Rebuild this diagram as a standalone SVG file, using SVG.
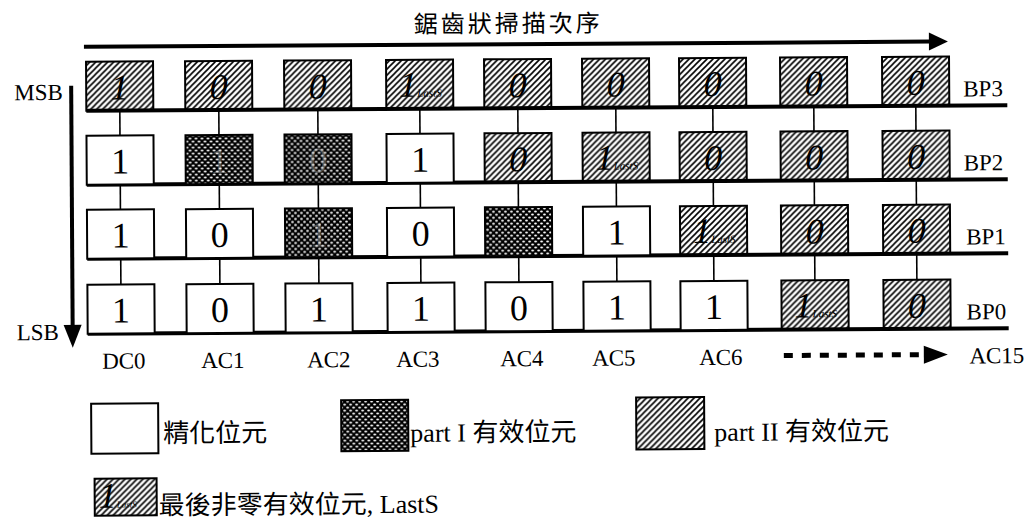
<svg xmlns="http://www.w3.org/2000/svg" width="1035" height="529" viewBox="0 0 1035 529">
<defs>
<pattern id="hatch" width="6" height="6" patternUnits="userSpaceOnUse"><path d="M-1,1 l2,-2 M0,6 l6,-6 M5,7 l2,-2" stroke="#000" stroke-width="1.6"/></pattern>
<pattern id="dots" width="6" height="6" patternUnits="userSpaceOnUse"><rect width="6" height="6" fill="#000"/><ellipse cx="1.5" cy="1.5" rx="1.4" ry="0.9" fill="#fff"/><ellipse cx="4.5" cy="4.5" rx="1.4" ry="0.9" fill="#fff"/></pattern>
</defs>
<style>
.box{stroke:#000;stroke-width:2}
.w{fill:#fff}
.h{fill:url(#hatch)}
.d{fill:url(#dots)}
.dg{font-family:"Liberation Serif",serif;font-size:36px;text-anchor:middle;fill:#000}
.it{font-style:italic}
.fd{fill:#fff;opacity:0.3}
.ls{font-family:"Liberation Serif",serif;font-size:36px;font-style:italic;fill:#000}
.sub{font-size:11px}
.lbl{font-family:"Liberation Serif",serif;font-size:23px;fill:#000}
.bp{font-family:"Liberation Serif",serif;font-size:23px;fill:#000}
.mix{font-family:"Liberation Serif","Noto Sans CJK TC",serif;font-size:26px;fill:#000}
.cjk{font-family:"Noto Sans CJK TC","Noto Sans CJK SC",sans-serif;fill:#000}
.rl{stroke:#000;stroke-width:4}
.cn{stroke:#000;stroke-width:1.6}
</style>
<rect width="1035" height="529" fill="#fff"/>
<g transform="rotate(-0.35 540 220)">
<g id="title">
<text class="cjk" x="415" y="32" font-size="24" letter-spacing="3">鋸齒狀掃描次序</text>
<line class="rl" x1="85" y1="44" x2="932" y2="44"/>
<polygon points="930,35 949,44 930,53" fill="#000"/>
</g>
<g id="axis">
<text class="lbl" x="15" y="97">MSB</text>
<text class="lbl" x="16" y="337">LSB</text>
<line class="rl" x1="72" y1="83" x2="72" y2="325"/>
<polygon points="63,322 72,345 81,322" fill="#000"/>
</g>
<g id="connectors">
<line class="rl" x1="87" y1="108" x2="1008" y2="108"/>
<line class="rl" x1="87" y1="182" x2="1008" y2="182"/>
<line class="rl" x1="87" y1="256" x2="1008" y2="256"/>
<line class="rl" x1="87" y1="331" x2="1008" y2="331"/>
<g class="cn">
<line x1="120.5" y1="108" x2="120.5" y2="133"/><line x1="219.5" y1="108" x2="219.5" y2="133"/><line x1="318.5" y1="108" x2="318.5" y2="133"/><line x1="420.5" y1="108" x2="420.5" y2="133"/><line x1="518.5" y1="108" x2="518.5" y2="133"/><line x1="616.5" y1="108" x2="616.5" y2="133"/><line x1="713.5" y1="108" x2="713.5" y2="133"/><line x1="814.5" y1="108" x2="814.5" y2="133"/><line x1="916.5" y1="108" x2="916.5" y2="133"/>
<line x1="120.5" y1="182" x2="120.5" y2="207"/><line x1="219.5" y1="182" x2="219.5" y2="207"/><line x1="318.5" y1="182" x2="318.5" y2="207"/><line x1="420.5" y1="182" x2="420.5" y2="207"/><line x1="518.5" y1="182" x2="518.5" y2="207"/><line x1="616.5" y1="182" x2="616.5" y2="207"/><line x1="713.5" y1="182" x2="713.5" y2="207"/><line x1="814.5" y1="182" x2="814.5" y2="207"/><line x1="916.5" y1="182" x2="916.5" y2="207"/>
<line x1="120.5" y1="256" x2="120.5" y2="282"/><line x1="219.5" y1="256" x2="219.5" y2="282"/><line x1="318.5" y1="256" x2="318.5" y2="282"/><line x1="420.5" y1="256" x2="420.5" y2="282"/><line x1="518.5" y1="256" x2="518.5" y2="282"/><line x1="616.5" y1="256" x2="616.5" y2="282"/><line x1="713.5" y1="256" x2="713.5" y2="282"/><line x1="814.5" y1="256" x2="814.5" y2="282"/><line x1="916.5" y1="256" x2="916.5" y2="282"/>
</g>
<line x1="783" y1="357" x2="925" y2="357" stroke="#000" stroke-width="5" stroke-dasharray="9 9"/>
<polygon points="923,348 947,357 923,366" fill="#000"/>
</g>
<g id="bp3">
<text class="bp" x="964" y="99">BP3</text>
<g id="bp3-dc0"><rect class="box h" x="87" y="59" width="67" height="49"/><text class="dg it" x="120.5" y="97">1</text></g>
<g id="bp3-ac1"><rect class="box h" x="186" y="59" width="67" height="49"/><text class="dg it" x="219.5" y="97">0</text></g>
<g id="bp3-ac2"><rect class="box h" x="285" y="59" width="67" height="49"/><text class="dg it" x="318.5" y="97">0</text></g>
<g id="bp3-ac3"><rect class="box h" x="387" y="59" width="67" height="49"/><text class="ls" x="400" y="96">1<tspan class="sub">LastS</tspan></text></g>
<g id="bp3-ac4"><rect class="box h" x="485" y="59" width="67" height="49"/><text class="dg it" x="518.5" y="97">0</text></g>
<g id="bp3-ac5"><rect class="box h" x="583" y="59" width="67" height="49"/><text class="dg it" x="616.5" y="97">0</text></g>
<g id="bp3-ac6"><rect class="box h" x="680" y="59" width="67" height="49"/><text class="dg it" x="713.5" y="97">0</text></g>
<g id="bp3-ac7"><rect class="box h" x="781" y="59" width="67" height="49"/><text class="dg it" x="814.5" y="97">0</text></g>
<g id="bp3-ac8"><rect class="box h" x="883" y="59" width="67" height="49"/><text class="dg it" x="916.5" y="97">0</text></g>
</g>
<g id="bp2">
<text class="bp" x="964" y="173">BP2</text>
<g id="bp2-dc0"><rect class="box w" x="87" y="133" width="67" height="49"/><text class="dg" x="120.5" y="171">1</text></g>
<g id="bp2-ac1"><rect class="box d" x="186" y="133" width="67" height="49"/><text class="dg fd" x="219.5" y="171">1</text></g>
<g id="bp2-ac2"><rect class="box d" x="285" y="133" width="67" height="49"/><text class="dg fd" x="318.5" y="171">0</text></g>
<g id="bp2-ac3"><rect class="box w" x="387" y="133" width="67" height="49"/><text class="dg" x="420.5" y="171">1</text></g>
<g id="bp2-ac4"><rect class="box h" x="485" y="133" width="67" height="49"/><text class="dg it" x="518.5" y="171">0</text></g>
<g id="bp2-ac5"><rect class="box h" x="583" y="133" width="67" height="49"/><text class="ls" x="596" y="170">1<tspan class="sub">LastS</tspan></text></g>
<g id="bp2-ac6"><rect class="box h" x="680" y="133" width="67" height="49"/><text class="dg it" x="713.5" y="171">0</text></g>
<g id="bp2-ac7"><rect class="box h" x="781" y="133" width="67" height="49"/><text class="dg it" x="814.5" y="171">0</text></g>
<g id="bp2-ac8"><rect class="box h" x="883" y="133" width="67" height="49"/><text class="dg it" x="916.5" y="171">0</text></g>
</g>
<g id="bp1">
<text class="bp" x="966" y="247">BP1</text>
<g id="bp1-dc0"><rect class="box w" x="87" y="207" width="67" height="49"/><text class="dg" x="120.5" y="245">1</text></g>
<g id="bp1-ac1"><rect class="box w" x="186" y="207" width="67" height="49"/><text class="dg" x="219.5" y="245">0</text></g>
<g id="bp1-ac2"><rect class="box d" x="285" y="207" width="67" height="49"/><text class="dg fd" x="318.5" y="245">1</text></g>
<g id="bp1-ac3"><rect class="box w" x="387" y="207" width="67" height="49"/><text class="dg" x="420.5" y="245">0</text></g>
<g id="bp1-ac4"><rect class="box d" x="485" y="207" width="67" height="49"/></g>
<g id="bp1-ac5"><rect class="box w" x="583" y="207" width="67" height="49"/><text class="dg" x="616.5" y="245">1</text></g>
<g id="bp1-ac6"><rect class="box h" x="680" y="207" width="67" height="49"/><text class="ls" x="693" y="244">1<tspan class="sub">LastS</tspan></text></g>
<g id="bp1-ac7"><rect class="box h" x="781" y="207" width="67" height="49"/><text class="dg it" x="814.5" y="245">0</text></g>
<g id="bp1-ac8"><rect class="box h" x="883" y="207" width="67" height="49"/><text class="dg it" x="916.5" y="245">0</text></g>
</g>
<g id="bp0">
<text class="bp" x="966" y="322">BP0</text>
<g id="bp0-dc0"><rect class="box w" x="87" y="282" width="67" height="49"/><text class="dg" x="120.5" y="320">1</text></g>
<g id="bp0-ac1"><rect class="box w" x="186" y="282" width="67" height="49"/><text class="dg" x="219.5" y="320">0</text></g>
<g id="bp0-ac2"><rect class="box w" x="285" y="282" width="67" height="49"/><text class="dg" x="318.5" y="320">1</text></g>
<g id="bp0-ac3"><rect class="box w" x="387" y="282" width="67" height="49"/><text class="dg" x="420.5" y="320">1</text></g>
<g id="bp0-ac4"><rect class="box w" x="485" y="282" width="67" height="49"/><text class="dg" x="518.5" y="320">0</text></g>
<g id="bp0-ac5"><rect class="box w" x="583" y="282" width="67" height="49"/><text class="dg" x="616.5" y="320">1</text></g>
<g id="bp0-ac6"><rect class="box w" x="680" y="282" width="67" height="49"/><text class="dg" x="713.5" y="320">1</text></g>
<g id="bp0-ac7"><rect class="box h" x="781" y="282" width="67" height="49"/><text class="ls" x="794" y="319">1<tspan class="sub">LastS</tspan></text></g>
<g id="bp0-ac8"><rect class="box h" x="883" y="282" width="67" height="49"/><text class="dg it" x="916.5" y="320">0</text></g>
</g>
<g id="col-labels" class="lbl" text-anchor="middle">
<text x="123" y="366">DC0</text>
<text x="222" y="366">AC1</text>
<text x="328" y="366">AC2</text>
<text x="417" y="366">AC3</text>
<text x="521" y="366">AC4</text>
<text x="613" y="366">AC5</text>
<text x="720" y="366">AC6</text>
<text x="996" y="366">AC15</text>
</g>
<g id="legend">
<g id="leg-refine"><rect class="box w" x="90" y="401" width="67" height="50"/><text class="mix" x="162" y="440">精化位元</text></g>
<g id="leg-part1"><rect class="box d" x="340" y="399" width="67" height="51"/><text class="mix" x="409" y="441">part I 有效位元</text></g>
<g id="leg-part2"><rect class="box h" x="635" y="398" width="68" height="52"/><text class="mix" x="713" y="442">part II 有效位元</text></g>
<g id="leg-lasts"><rect class="box h" x="93" y="476" width="62" height="37"/><text class="ls" x="97" y="505" font-size="28">1<tspan font-size="9">LastS</tspan></text><text class="mix" x="157" y="512">最後非零有效位元, LastS</text></g>
</g>
</g>
</svg>
